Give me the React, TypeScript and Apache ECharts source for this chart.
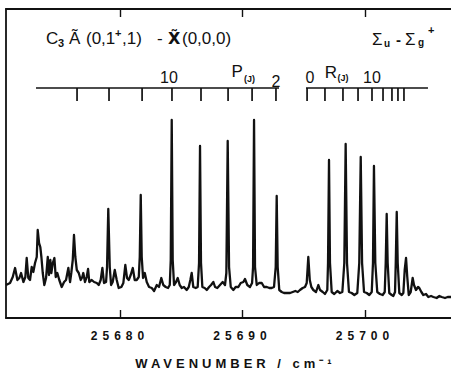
import React, { useEffect, useRef } from "react";
import * as echarts from "echarts";

// Spectrum trace: wavenumber (cm-1) and intensity (arb. units)
const wavenumber = [
  25670.69, 25671.02, 25671.24, 25671.43, 25671.62, 25671.78, 25671.92, 25672.11, 25672.27, 25672.38,
  25672.51, 25672.65, 25672.79, 25672.92, 25673.06, 25673.2, 25673.28, 25673.39, 25673.49, 25673.58,
  25673.69, 25673.82, 25673.96, 25674.1, 25674.2, 25674.31, 25674.39, 25674.51, 25674.64, 25674.75,
  25674.88, 25675.04, 25675.24, 25675.43, 25675.59, 25675.78, 25675.92, 25676.02, 25676.14, 25676.24,
  25676.35, 25676.47, 25676.63, 25676.79, 25676.92, 25677.0, 25677.14, 25677.28, 25677.39, 25677.49,
  25677.69, 25677.88, 25678.1, 25678.26, 25678.42, 25678.56, 25678.69, 25678.86, 25678.94, 25679.04,
  25679.16, 25679.27, 25679.4, 25679.57, 25679.73, 25679.89, 25680.11, 25680.27, 25680.43, 25680.57,
  25680.71, 25680.87, 25681.04, 25681.2, 25681.36, 25681.53, 25681.61, 25681.69, 25681.77, 25681.88,
  25682.02, 25682.18, 25682.37, 25682.59, 25682.78, 25683.0, 25683.18, 25683.37, 25683.53, 25683.73,
  25683.92, 25684.06, 25684.14, 25684.22, 25684.3, 25684.41, 25684.57, 25684.71, 25684.87, 25685.04,
  25685.22, 25685.44, 25685.61, 25685.74, 25685.85, 25685.98, 25686.18, 25686.34, 25686.45, 25686.53,
  25686.61, 25686.72, 25686.91, 25687.08, 25687.27, 25687.43, 25687.62, 25687.76, 25687.94, 25688.16,
  25688.38, 25688.57, 25688.68, 25688.79, 25688.9, 25689.04, 25689.25, 25689.44, 25689.66, 25689.85,
  25690.07, 25690.2, 25690.39, 25690.61, 25690.78, 25690.86, 25690.94, 25691.02, 25691.16, 25691.35,
  25691.57, 25691.76, 25691.98, 25692.19, 25692.38, 25692.57, 25692.71, 25692.79, 25692.87, 25693.0,
  25693.2, 25693.39, 25693.61, 25693.88, 25694.1, 25694.31, 25694.51, 25694.69, 25694.91, 25695.1,
  25695.24, 25695.37, 25695.49, 25695.62, 25695.78, 25696.0, 25696.19, 25696.33, 25696.55, 25696.73,
  25696.92, 25696.98, 25697.06, 25697.14, 25697.28, 25697.49, 25697.74, 25697.96, 25698.15, 25698.31,
  25698.42, 25698.53, 25698.69, 25698.91, 25699.13, 25699.37, 25699.53, 25699.65, 25699.76, 25699.92,
  25700.14, 25700.35, 25700.55, 25700.65, 25700.73, 25700.84, 25701.0, 25701.22, 25701.44, 25701.61,
  25701.69, 25701.77, 25701.85, 25701.98, 25702.18, 25702.31, 25702.45, 25702.51, 25702.59, 25702.67,
  25702.8, 25703.0, 25703.13, 25703.24, 25703.35, 25703.45, 25703.57, 25703.73, 25703.89, 25704.0,
  25704.16, 25704.33, 25704.43, 25704.6, 25704.76, 25704.98, 25705.17, 25705.39, 25705.58, 25705.85,
  25706.07, 25706.26, 25706.53, 25706.75, 25707.02,
];
const intensity = [
  33, 35, 41, 50, 38, 40, 45, 36, 41, 60,
  40, 38, 51, 46, 55, 61, 88, 75, 71, 61,
  45, 33, 40, 61, 43, 58, 45, 55, 60, 41,
  45, 38, 31, 36, 38, 50, 36, 45, 58, 83,
  61, 48, 45, 38, 41, 45, 36, 41, 49, 36,
  38, 36, 35, 33, 38, 50, 35, 36, 51, 109,
  51, 33, 36, 48, 38, 30, 31, 35, 53, 40,
  38, 43, 50, 38, 38, 41, 61, 123, 61, 40,
  45, 36, 31, 30, 27, 33, 31, 40, 33, 31,
  30, 33, 58, 198, 58, 33, 36, 40, 33, 30,
  31, 28, 31, 38, 45, 31, 30, 31, 55, 172,
  55, 31, 30, 28, 31, 33, 36, 31, 30, 33,
  36, 33, 45, 177, 51, 31, 28, 31, 31, 35,
  36, 39, 33, 31, 35, 51, 198, 51, 33, 35,
  35, 31, 31, 30, 30, 31, 51, 122, 51, 28,
  26, 25, 25, 25, 26, 27, 26, 28, 30, 31,
  35, 61, 38, 31, 28, 26, 33, 28, 26, 24,
  28, 55, 158, 55, 26, 24, 27, 25, 26, 55,
  174, 55, 26, 25, 23, 25, 55, 161, 55, 26,
  25, 23, 26, 55, 152, 55, 26, 24, 23, 26,
  55, 104, 55, 25, 23, 22, 26, 55, 106, 55,
  25, 23, 25, 48, 60, 41, 23, 26, 40, 33,
  28, 31, 30, 26, 23, 24, 21, 22, 21, 20,
  22, 21, 20, 21, 21,
];

const axisTicks = [25680, 25690, 25700];
const axisTickLabels = ["25680", "25690", "25700"];
const xMin = 25670.69;
const xMax = 25707.02;

// rotational line ladders (P and R branches)
const pBranch = [25676.49, 25679.1, 25681.8, 25684.24, 25686.61, 25688.82, 25690.78, 25692.73];
const rBranch = [25695.27, 25696.73, 25698.2, 25699.43, 25700.57, 25701.47, 25702.2, 25702.69, 25703.18];
const pSpan = [25673.14, 25692.98];
const rSpan = [25695.18, 25705.14];
const pLabels = [
  { index: 3, text: "10" },
  { index: 7, text: "2" },
];
const rLabels = [
  { index: 0, text: "0" },
  { index: 4, text: "10" },
];
const ladderLevel = 230;

const FONT = "'Liberation Sans', Arial, Helvetica, sans-serif";
const INK = "#111";

export default function App() {
  const ref = useRef<HTMLDivElement>(null);

  useEffect(() => {
    const el = ref.current;
    if (!el) return;
    const chart = echarts.init(el, undefined, { renderer: "svg" });
    const trace = wavenumber.map((v, i) => [v, intensity[i]]);

    const txt = (text: string, x: number, y: number, size: number, extra: any = {}) => ({
      type: "text",
      x,
      y,
      style: {
        text,
        fill: INK,
        fontFamily: FONT,
        fontSize: size,
        align: "left",
        verticalAlign: "middle",
        ...extra,
      },
    });

    const option: any = {
      animation: false,
      grid: { left: 6, right: 0, top: 9, bottom: 58, containLabel: false },
      xAxis: [
        {
          type: "value",
          min: xMin,
          max: xMax,
          position: "bottom",
          axisLine: { show: true, onZero: false, lineStyle: { color: INK, width: 1.8 } },
          axisTick: { show: true, inside: true, length: 8, customValues: axisTicks, lineStyle: { color: INK, width: 1.4 } },
          axisLabel: {
            show: true,
            customValues: axisTicks,
            margin: 12,
            color: INK,
            fontFamily: FONT,
            fontWeight: "bold",
            fontSize: 12,
            formatter: (v: number) => axisTickLabels[axisTicks.indexOf(Math.round(v))] ?? String(v),
          },
          splitLine: { show: false },
        },
        {
          type: "value",
          min: xMin,
          max: xMax,
          position: "top",
          axisLine: { show: true, onZero: false, lineStyle: { color: INK, width: 1.8 } },
          axisTick: { show: true, inside: true, length: 8, customValues: axisTicks, lineStyle: { color: INK, width: 1.4 } },
          axisLabel: { show: false },
          splitLine: { show: false },
        },
      ],
      yAxis: {
        type: "value",
        min: 0,
        max: 309,
        axisLine: { show: true, onZero: false, lineStyle: { color: INK, width: 1.8 } },
        axisTick: { show: false },
        axisLabel: { show: false },
        splitLine: { show: false },
      },
      series: [
        {
          type: "line",
          data: trace,
          showSymbol: false,
          symbol: "none",
          xAxisIndex: 0,
          lineStyle: { color: INK, width: 2.3, join: "round" },
          silent: true,
        },
        {
          type: "custom",
          xAxisIndex: 0,
          silent: true,
          data: [
            [pSpan[0], pSpan[1]],
            [rSpan[0], rSpan[1]],
          ],
          renderItem: (params: any, api: any) => {
            const isP = params.dataIndex === 0;
            const span = isP ? pSpan : rSpan;
            const ticks = isP ? pBranch : rBranch;
            const labels = isP ? pLabels : rLabels;
            const a = api.coord([span[0], ladderLevel]);
            const b = api.coord([span[1], ladderLevel]);
            const y0 = a[1];
            const stroke = { stroke: INK, lineWidth: 1.7 };
            const children: any[] = [
              { type: "line", shape: { x1: a[0], y1: y0, x2: b[0], y2: y0 }, style: stroke },
            ];
            const tx = ticks.map((t) => api.coord([t, ladderLevel])[0]);
            tx.forEach((x) => {
              children.push({ type: "line", shape: { x1: x, y1: y0, x2: x, y2: y0 + 13 }, style: stroke });
            });
            labels.forEach((l) => {
              const dy = isP && l.text === "2" ? -6.5 : -10.5;
              const shift = isP && l.text === "10" ? -3 : !isP && l.text === "0" ? 3 : 0;
              children.push(txt(l.text, tx[l.index] + shift, y0 + dy, 16, { align: "center" }));
            });
            if (isP) {
              children.push(txt("P", tx[6] - 15, y0 - 16.5, 17, { align: "center" }));
              children.push(txt("(J)", tx[6] - 2.5, y0 - 9.5, 9, { align: "center", fontWeight: "bold" }));
            } else {
              children.push(txt("R", tx[1] + 6, y0 - 15.5, 17, { align: "center" }));
              children.push(txt("(J)", tx[2], y0 - 10, 9, { align: "center", fontWeight: "bold" }));
            }
            return { type: "group", children };
          },
        },
      ],
      graphic: [
        txt("C", 46, 38.5, 17),
        txt("3", 58, 43, 11, { fontWeight: "bold" }),
        txt("\u00C3", 69, 38.5, 17),
        txt("(0,1", 86, 38.5, 17),
        txt("+", 115, 33, 11, { fontWeight: "bold" }),
        txt(",1)", 122, 38.5, 17),
        txt("-", 157, 38.5, 17),
        txt("X\u0303", 168, 38.5, 18, { fontWeight: "bold", fontFamily: "'DejaVu Sans', " + FONT, fontSize: 16 }),
        txt("(0,0,0)", 182, 38.5, 17),
        txt("\u03A3", 372, 39, 17),
        txt("u", 384, 43, 10, { fontWeight: "bold" }),
        txt("-", 396, 39, 15, { fontWeight: "bold" }),
        txt("\u03A3", 405, 39, 17),
        txt("g", 418, 42, 10, { fontWeight: "bold" }),
        txt("+", 428, 30, 11, { fontWeight: "bold" }),
        txt("WAVENUMBER / cm\u207B\u00B9", 235.5, 363.5, 13, { align: "center", fontWeight: "bold" }),
      ],
    };

    chart.setOption(option);

    const applySpacing = () => {
      el.querySelectorAll("text").forEach((t) => {
        const s = t.textContent || "";
        if (axisTickLabels.includes(s)) t.setAttribute("letter-spacing", "5");
        if (s.startsWith("WAVENUMBER")) t.setAttribute("letter-spacing", "4");
      });
    };
    applySpacing();
    chart.on("finished", applySpacing);
    const timer = setTimeout(applySpacing, 50);

    return () => {
      clearTimeout(timer);
      chart.dispose();
    };
  }, []);

  return (
    <div
      ref={ref}
      style={{ position: "absolute", left: 0, top: 0, width: 451, height: 376, background: "#fff" }}
    />
  );
}
